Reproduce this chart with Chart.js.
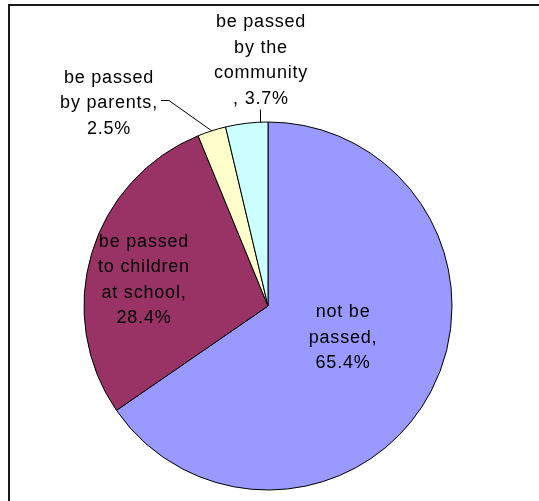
<!DOCTYPE html>
<html>
<head>
<meta charset="utf-8">
<script src="https://cdn.jsdelivr.net/npm/chart.js@4/dist/chart.umd.min.js"></script>
<style>
  html, body { margin: 0; padding: 0; background: #fff; }
  canvas { display: block; }
</style>
</head>
<body>
<canvas id="c" width="539" height="501"></canvas>
<script>
// ---- data ----
const categories = ["not be passed", "be passed to children at school", "be passed by parents", "be passed by the community"];
const values = [65.4, 28.4, 2.5, 3.7];
const labelLines = [
  ["not be", "passed,", "65.4%"],
  ["be passed", "to children", "at school,", "28.4%"],
  ["be passed", "by parents,", "2.5%"],
  ["be passed", "by the", "community", ", 3.7%"]
];
const colors = ["#9999FF", "#993366", "#FFFFCC", "#CCFFFF"];

// ---- label placement (relative to pie centre, in radius units; first-line baseline) ----
const labelPos = [
  { fx: 0.408, fy: 0.060 },
  { fx: -0.674, fy: -0.321 },
  { fx: -0.864, fy: -1.212, leader: "side" },
  { fx: -0.038, fy: -1.516, leader: "down" }
];
const FONT = '18px "Liberation Sans", Arial, sans-serif';
const LINE_H = 25.5;

const framePlugin = {
  id: 'frame',
  beforeDraw(chart) {
    const ctx = chart.ctx;
    ctx.save();
    ctx.strokeStyle = '#1a1a1a';
    ctx.lineWidth = 2;
    ctx.beginPath();
    ctx.moveTo(9, 501);
    ctx.lineTo(9, 5);
    ctx.lineTo(539, 5);
    ctx.stroke();
    ctx.restore();
  }
};

const labelPlugin = {
  id: 'sliceLabels',
  afterDraw(chart) {
    const ctx = chart.ctx;
    const meta = chart.getDatasetMeta(0);
    ctx.save();
    ctx.font = FONT;
    try { ctx.letterSpacing = '0.8px'; } catch (e) {}
    ctx.fillStyle = '#000';
    ctx.textAlign = 'center';
    ctx.textBaseline = 'alphabetic';
    meta.data.forEach((arc, i) => {
      const p = arc.getProps(['x', 'y', 'startAngle', 'endAngle', 'outerRadius'], true);
      const r = p.outerRadius;
      const cfg = labelPos[i];
      const lx = p.x + cfg.fx * r;
      const ly = p.y + cfg.fy * r;
      const lines = labelLines[i];
      lines.forEach((t, j) => ctx.fillText(t, lx, ly + j * LINE_H));
      const mid = (p.startAngle + p.endAngle) / 2;
      ctx.strokeStyle = '#000';
      ctx.lineWidth = 1;
      if (cfg.leader === 'side') {
        const w = ctx.measureText(lines[1]).width;
        const sx = lx + w / 2 + 3;
        const sy = ly + LINE_H - 8;
        const ex = p.x + Math.cos(mid) * r;
        const ey = p.y + Math.sin(mid) * r;
        ctx.beginPath();
        ctx.moveTo(sx, sy);
        ctx.lineTo(sx + 8, sy);
        ctx.lineTo(ex, ey);
        ctx.stroke();
      } else if (cfg.leader === 'down') {
        const x0 = Math.round(lx) - 0.5;
        const sy = ly + (lines.length - 1) * LINE_H + 6;
        const dx = x0 - p.x;
        const ey = p.y - Math.sqrt(r * r - dx * dx);
        ctx.beginPath();
        ctx.moveTo(x0, sy);
        ctx.lineTo(x0, ey);
        ctx.stroke();
      }
    });
    ctx.restore();
  }
};

new Chart(document.getElementById('c'), {
  type: 'pie',
  data: {
    labels: categories,
    datasets: [{
      data: values,
      backgroundColor: colors,
      borderColor: '#000',
      borderWidth: 1,
      hoverOffset: 0
    }]
  },
  options: {
    responsive: false,
    animation: false,
    radius: 184,
    layout: { padding: { left: 84, right: 87, top: 122, bottom: 11 } },
    plugins: {
      legend: { display: false },
      tooltip: { enabled: false },
      title: { display: false }
    },
    events: []
  },
  plugins: [framePlugin, labelPlugin]
});
</script>
</body>
</html>
